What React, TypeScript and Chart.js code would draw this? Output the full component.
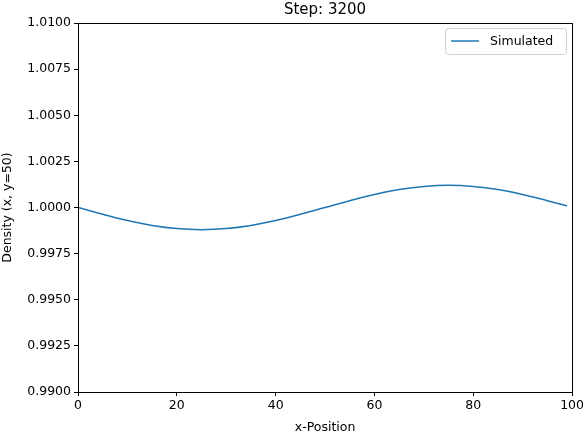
import React, { useEffect, useRef } from "react";
import Chart from "chart.js/auto";

const xPositions = [0, 5, 10, 15, 20, 25, 30, 35, 40, 45, 50, 55, 60, 65, 70, 75, 80, 85, 90, 95, 99];
const density = [
  1.0, 0.99963, 0.99929, 0.99903, 0.99886, 0.9988, 0.99886, 0.99903, 0.99929, 0.99963, 1.0,
  1.00037, 1.00071, 1.00097, 1.00114, 1.0012, 1.00114, 1.00097, 1.00071, 1.00037, 1.00008,
];
const seriesLabel = "Simulated";
const chartTitle = "Step: 3200";

const FONT = "DejaVu Sans";

const overlay = {
  id: "overlay",
  afterDraw(chart: Chart) {
    const { ctx, chartArea } = chart;
    ctx.save();
    // frame
    ctx.strokeStyle = "#000";
    ctx.lineWidth = 1;
    ctx.strokeRect(
      Math.round(chartArea.left) + 0.5,
      Math.round(chartArea.top) + 0.5,
      Math.round(chartArea.right - chartArea.left),
      Math.round(chartArea.bottom - chartArea.top)
    );
    ctx.fillStyle = "#000";
    ctx.font = `15px ${FONT}`;
    ctx.textAlign = "center";
    ctx.textBaseline = "bottom";
    ctx.fillText(chartTitle, (chartArea.left + chartArea.right) / 2, chartArea.top - 5);
    // legend
    const w = 121, h = 26;
    const x = chartArea.right - 6 - w, y = chartArea.top + 5;
    ctx.fillStyle = "rgba(255,255,255,0.8)";
    ctx.strokeStyle = "#d0d0d0";
    ctx.lineWidth = 1;
    ctx.beginPath();
    ctx.roundRect(x + 0.5, y + 0.5, w, h, 3);
    ctx.fill();
    ctx.stroke();
    ctx.strokeStyle = "#1f77b4";
    ctx.lineWidth = 1.5;
    ctx.beginPath();
    ctx.moveTo(x + 6, y + h / 2);
    ctx.lineTo(x + 34, y + h / 2);
    ctx.stroke();
    ctx.fillStyle = "#000";
    ctx.font = `12.5px ${FONT}`;
    ctx.textAlign = "left";
    ctx.textBaseline = "middle";
    ctx.fillText(seriesLabel, x + 45, y + h / 2 + 1);
    ctx.restore();
  },
};

export default function App() {
  const ref = useRef<HTMLCanvasElement>(null);
  useEffect(() => {
    if (!ref.current) return;
    const chart = new Chart(ref.current, {
      type: "line",
      data: {
        datasets: [
          {
            label: seriesLabel,
            data: xPositions.map((x, i) => ({ x, y: density[i] })),
            borderColor: "#1f77b4",
            borderWidth: 1.5,
            pointRadius: 0,
            tension: 0.4,
          },
        ],
      },
      options: {
        animation: false,
        responsive: false,
        layout: { padding: { top: 23, right: 12, left: 0, bottom: 0 } },
        plugins: { legend: { display: false }, title: { display: false }, tooltip: { enabled: false } },
        scales: {
          x: {
            type: "linear",
            min: 0,
            max: 100,
            afterFit: (s: any) => { s.height = 43; },
            ticks: { stepSize: 20, color: "#000", font: { family: FONT, size: 12.5 }, padding: 2, maxRotation: 0 },
            grid: { drawOnChartArea: false, tickLength: 4, color: "#000" },
            border: { color: "#000" },
            title: { display: true, text: "x-Position", color: "#000", font: { family: FONT, size: 12.5 }, padding: 0 },
          },
          y: {
            min: 0.99,
            max: 1.01,
            afterFit: (s: any) => { s.width = 78; },
            ticks: {
              stepSize: 0.0025,
              color: "#000",
              font: { family: FONT, size: 12.5 },
              padding: 3,
              callback: (v: any) => Number(v).toFixed(4),
            },
            grid: { drawOnChartArea: false, tickLength: 4, color: "#000" },
            border: { color: "#000" },
            title: { display: true, text: "Density (x, y=50)", color: "#000", font: { family: FONT, size: 12.5 }, padding: 0 },
          },
        },
      },
      plugins: [overlay],
    });
    return () => chart.destroy();
  }, []);
  return (
    <div style={{ position: "fixed", left: 0, top: 0, width: 586, height: 435, background: "#fff" }}>
      <canvas ref={ref} width={586} height={435} />
    </div>
  );
}
